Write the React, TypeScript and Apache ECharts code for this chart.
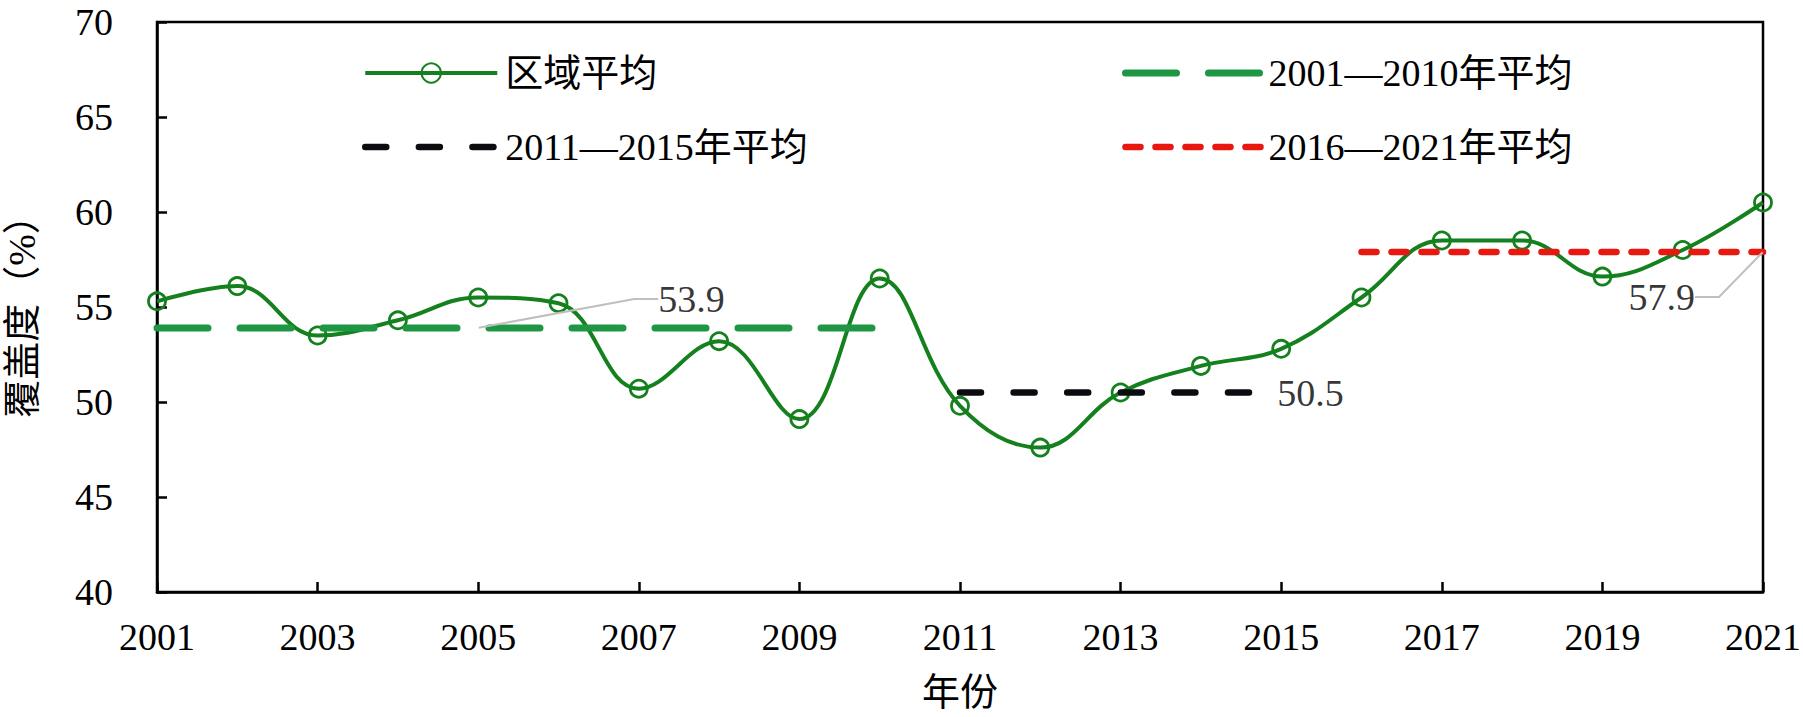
import React, { useEffect, useRef } from 'react';
import * as echarts from 'echarts';

// ---------- data ----------
const years = [2001, 2002, 2003, 2004, 2005, 2006, 2007, 2008, 2009, 2010, 2011, 2012, 2013, 2014, 2015, 2016, 2017, 2018, 2019, 2020, 2021];
const coverage = [55.3, 56.1, 53.5, 54.3, 55.5, 55.2, 50.7, 53.2, 49.1, 56.5, 49.8, 47.6, 50.5, 51.9, 52.8, 55.5, 58.5, 58.5, 56.6, 58.0, 60.5];

const periodNames = ['2001—2010年平均', '2011—2015年平均', '2016—2021年平均'];
const periodStart = [2001, 2011, 2016];
const periodEnd = [2010, 2015, 2021];
const periodMean = [53.9, 50.5, 57.9];
const labelAnchorYears = [2005, 2015, 2021];

const mainName = '区域平均';
const yMin = 40;
const yMax = 70;
const yStep = 5;
const xMin = 2001;
const xMax = 2021;
const xStep = 2;

// ---------- styles ----------
const FONT = "Liberation Serif, Times New Roman, DejaVu Serif, Noto Sans CJK SC, serif";
const FS = 38;
const GREEN = '#15801e';
const GREEN2 = '#1e9644';
const BLACK = '#0b0b10';
const RED = '#e8170f';

const periodColors = [GREEN2, BLACK, RED];
const periodWidths = [7, 6.5, 6.5];
const periodDash = [[51, 32], [21, 32.6], [15, 15]];

export default function App() {
  const ref = useRef<HTMLDivElement>(null);

  useEffect(() => {
    if (!ref.current) return;
    const chart = echarts.init(ref.current, null, { renderer: 'svg' });

    const avgSeries = periodNames.map((name, i) => ({
      type: 'line',
      name,
      data: [[periodStart[i], periodMean[i]], [periodEnd[i], periodMean[i]]],
      symbol: 'none',
      silent: true,
      lineStyle: {
        color: periodColors[i],
        width: periodWidths[i],
        type: periodDash[i],
        cap: 'round',
      },
      itemStyle: { color: periodColors[i] },
      z: 4,
    }));

    const legendText = {
      fontSize: FS,
      lineHeight: FS,
      color: '#000',
      fontFamily: FONT,
    };

    const avgLegendItem = (i: number) => ({
      name: periodNames[i],
      itemStyle: { opacity: 0 },
      lineStyle: { width: periodWidths[i] },
    });

    const option: any = {
      animation: false,
      backgroundColor: '#fff',
      textStyle: { fontFamily: FONT },
      grid: {
        left: 157,
        right: 40,
        top: 22,
        bottom: 125,
        show: true,
        borderColor: '#000',
        borderWidth: 2.5,
        containLabel: false,
        outerBoundsMode: 'none',
      },
      legend: [
        {
          data: [{ name: mainName, lineStyle: { width: 4 } }, avgLegendItem(1)],
          orient: 'vertical',
          left: 357,
          top: 49,
          itemWidth: 132,
          itemHeight: 24,
          itemGap: 36,
          selectedMode: false,
          textStyle: { ...legendText, padding: [0, 0, 0, 3] },
        },
        {
          data: [avgLegendItem(0), avgLegendItem(2)],
          orient: 'vertical',
          left: 1117,
          top: 49,
          itemWidth: 136,
          itemHeight: 24,
          itemGap: 36,
          selectedMode: false,
          textStyle: { ...legendText, padding: [0, 0, 0, 2] },
        },
      ],
      xAxis: {
        type: 'value',
        min: xMin,
        max: xMax,
        interval: xStep,
        name: '年份',
        nameLocation: 'middle',
        nameGap: 81,
        nameTextStyle: { fontSize: FS, color: '#000', fontFamily: FONT },
        axisLine: { show: true, onZero: false, lineStyle: { color: '#000', width: 2.5 } },
        axisTick: { show: true, inside: true, length: 10, lineStyle: { color: '#000', width: 2.5 } },
        axisLabel: {
          fontSize: FS,
          color: '#000',
          margin: 26,
          fontFamily: FONT,
          formatter: (v: number) => String(v),
        },
        splitLine: { show: false },
      },
      yAxis: {
        type: 'value',
        min: yMin,
        max: yMax,
        interval: yStep,
        name: '覆盖度（%）',
        nameLocation: 'middle',
        nameGap: 116,
        nameTextStyle: { fontSize: FS, color: '#000', fontFamily: FONT },
        axisLine: { show: true, onZero: false, lineStyle: { color: '#000', width: 2.5 } },
        axisTick: { show: true, inside: true, length: 10, lineStyle: { color: '#000', width: 2.5 } },
        axisLabel: {
          fontSize: FS,
          color: '#000',
          margin: 44,
          fontFamily: FONT,
          formatter: (v: number) => String(v),
        },
        splitLine: { show: false },
      },
      series: [
        {
          type: 'line',
          name: mainName,
          data: years.map((y, i) => [y, coverage[i]]),
          smooth: 0.4,
          smoothConstraint: false,
          symbol: 'circle',
          symbolSize: 17,
          silent: true,
          lineStyle: { color: GREEN, width: 4 },
          itemStyle: { color: 'rgba(0,0,0,0)', borderColor: GREEN, borderWidth: 2.8 },
          z: 3,
        },
        ...avgSeries,
        {
          type: 'scatter',
          name: '标注',
          silent: true,
          symbol: 'circle',
          symbolSize: 1,
          itemStyle: { color: 'rgba(0,0,0,0)' },
          data: labelAnchorYears.map((yr, i) => ({
            value: [yr, periodMean[i]],
            label: { padding: i === 0 ? [0, 0, 0, 16] : i === 2 ? [0, 17, 0, 0] : 0 },
            labelLine: { show: i !== 1 },
          })),
          label: {
            show: true,
            color: '#000',
            fontSize: FS,
            fontFamily: FONT,
            formatter: (p: any) => p.value[1].toFixed(1),
          },
          labelLine: {
            show: true,
            length2: 24,
            lineStyle: { color: '#bfbfbf', width: 2 },
          },
          labelLayout: (p: any) => {
            const cx = p.rect.x + p.rect.width / 2;
            const cy = p.rect.y + p.rect.height / 2;
            if (p.dataIndex === 0) return { x: cx + 164, y: cy - 29, align: 'left', verticalAlign: 'middle' };
            if (p.dataIndex === 1) return { x: cx - 4, y: cy, align: 'left', verticalAlign: 'middle' };
            return { x: cx - 51, y: cy + 45, align: 'right', verticalAlign: 'middle' };
          },
          z: 6,
        },
      ],
    };

    chart.setOption(option);
    return () => chart.dispose();
  }, []);

  return (
    <div
      ref={ref}
      style={{ position: 'fixed', left: 0, top: 0, width: 1803, height: 717, background: '#fff' }}
    />
  );
}
